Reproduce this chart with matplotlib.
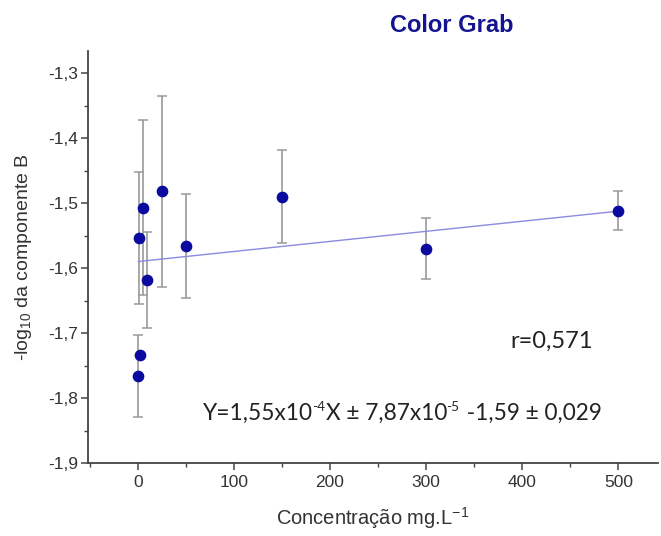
import matplotlib
matplotlib.use("Agg")
import matplotlib.pyplot as plt
import numpy as np
from matplotlib.ticker import MultipleLocator, FuncFormatter

# Data
conc = [0.5, 2, 1, 5, 10, 25, 50, 150, 300, 500]
logB = [-1.766, -1.734, -1.554, -1.507, -1.618, -1.482, -1.566, -1.490, -1.570, -1.512]
err = [0.063, 0.0, 0.102, 0.135, 0.074, 0.147, 0.080, 0.072, 0.047, 0.030]

slope = 1.55e-4
intercept = -1.59

title = "Color Grab"
xlabel = "Concentração mg.L$^{\\mathregular{-1}}$"
ylabel = "-log$_{\\mathregular{10}}$ da componente B"
r_text = "r=0,571"
eq_pieces = [("Y=1,55x10", False), ("-4", True), ("X ± 7,87x10", False), ("-5", True),
             (" -1,59 ± 0,029", False)]

plt.rcParams['font.family'] = ['Liberation Sans', 'DejaVu Sans']
plt.rcParams['mathtext.fontset'] = 'custom'
plt.rcParams['mathtext.rm'] = 'Liberation Sans'

fig = plt.figure(figsize=(6.61, 5.36), dpi=100)
ax = fig.add_axes([0.133, 0.136, 0.862, 0.769])

ax.errorbar(conc, logB, yerr=err, fmt='none', ecolor='#9a9a9a', elinewidth=1.2,
            capsize=3.5, capthick=1.1, zorder=2)
xs = np.array([min(conc), max(conc)])
ax.plot(xs, slope * xs + intercept, color='#8a8ae0', lw=1.0, zorder=3)
ax.scatter(conc, logB, s=55, color='#0a0aa0', zorder=4)

ax.set_xlim(-52, 541)
ax.set_ylim(-1.9, -1.266)
ax.xaxis.set_major_locator(MultipleLocator(100))
ax.xaxis.set_minor_locator(MultipleLocator(50))
ax.yaxis.set_major_locator(MultipleLocator(0.1))
ax.yaxis.set_minor_locator(MultipleLocator(0.05))
ax.yaxis.set_major_formatter(FuncFormatter(lambda v, p: f"{v:.1f}".replace('.', ',')))

for s in ['top', 'right']:
    ax.spines[s].set_visible(False)
for s in ['left', 'bottom']:
    ax.spines[s].set_color('#444444')
    ax.spines[s].set_linewidth(1.3)
ax.tick_params(which='major', direction='out', length=5, width=1.1, colors='#444444',
               labelsize=12.5, labelcolor='#333333')
ax.tick_params(axis='y', which='major', pad=2)
ax.tick_params(which='minor', direction='out', length=3, width=1.0, colors='#444444')

ax.set_xlabel(xlabel, fontsize=14.5, color='#333333', labelpad=11)
ax.set_ylabel(ylabel, fontsize=14, color='#333333', labelpad=10)

fig.text(0.683, 0.952, title, fontsize=17, fontweight='bold', color='#141490',
         ha='center', va='center')

ax.text(388, -1.713, r_text, fontsize=17, color='#222222', family=['Lato', 'DejaVu Sans'],
        va='center', ha='left')

# equation drawn piece by piece so superscripts use a plain hyphen
renderer = fig.canvas.get_renderer()
base_size = 16.3
offset = 0.0
for txt, sup in eq_pieces:
    size = base_size * 0.6 if sup else base_size
    dy = base_size * 0.42 if sup else 0
    if sup:
        offset -= 1.0
    t = ax.annotate(txt, xy=(68, -1.834), xycoords='data',
                    xytext=(offset, dy), textcoords='offset points',
                    fontsize=size, color='#222222', family=['Lato', 'DejaVu Sans'],
                    va='baseline', ha='left')
    bb = t.get_window_extent(renderer)
    offset += bb.width * 72.0 / fig.dpi
    if sup:
        offset += 1.2

fig.savefig("out.png", dpi=100)
